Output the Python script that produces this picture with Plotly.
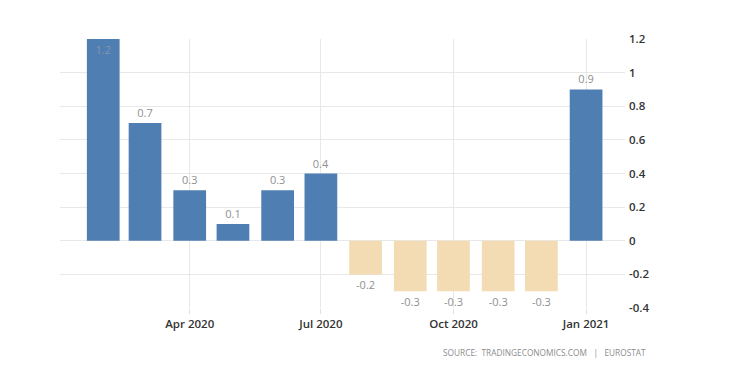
import plotly.graph_objects as go

months = ["2020-02-01", "2020-03-01", "2020-04-01", "2020-05-01", "2020-06-01", "2020-07-01",
          "2020-08-01", "2020-09-01", "2020-10-01", "2020-11-01", "2020-12-01", "2021-01-01"]
values = [1.2, 0.7, 0.3, 0.1, 0.3, 0.4, -0.2, -0.3, -0.3, -0.3, -0.3, 0.9]
tick_dates = ["2020-04-01", "2020-07-01", "2020-10-01", "2021-01-01"]
tick_labels = ["Apr 2020", "Jul 2020", "Oct 2020", "Jan 2021"]
y_ticks = [-0.4, -0.2, 0, 0.2, 0.4, 0.6, 0.8, 1, 1.2]
y_labels = ["-0.4", "-0.2", "0", "0.2", "0.4", "0.6", "0.8", "1", "1.2"]

BLUE = "#4f7eb2"
TAN = "#f3dcb4"
colors = [BLUE if v >= 0 else TAN for v in values]
texts = [f"{v:g}" for v in values]
positions = ["inside" if v >= 1.2 else "outside" for v in values]

DAY_MS = 86400000
fig = go.Figure(go.Bar(
    x=months, y=values,
    marker=dict(color=colors, line=dict(width=0)),
    width=[22.7 * DAY_MS] * len(values),
    text=texts, textposition=positions,
    insidetextanchor="end",
    insidetextfont=dict(color="#8795ab", size=11, family="Open Sans"),
    outsidetextfont=dict(color="#909090", size=11, family="Open Sans"),
    cliponaxis=False,
    hoverinfo="skip",
))

fig.update_layout(
    width=740, height=379,
    margin=dict(l=52, r=123, t=31, b=79),
    paper_bgcolor="white", plot_bgcolor="white",
    showlegend=False,
    font=dict(family="Open Sans", size=11, color="#333333"),
    xaxis=dict(
        type="date",
        range=["2020-01-02", "2021-01-28"],
        tickvals=tick_dates, ticktext=tick_labels,
        showgrid=True, gridcolor="#e8e8e8", gridwidth=1,
        ticks="outside", ticklen=5, tickcolor="#e0e0e0",
        showline=False, zeroline=False,
        tickfont=dict(size=11.5, color="#333333", family="Open Sans", weight=600),
    ),
    yaxis=dict(
        side="right",
        range=[-0.4, 1.2],
        tickvals=y_ticks, ticktext=y_labels,
        showgrid=True, gridcolor="#e8e8e8", gridwidth=1,
        zeroline=True, zerolinecolor="#e8e8e8", zerolinewidth=1,
        showline=False, ticks="", ticklabelstandoff=3,
        tickfont=dict(size=11.5, color="#333333", family="Open Sans", weight=600),
    ),
    annotations=[dict(
        text="SOURCE:\u00a0\u00a0TRADINGECONOMICS.COM\u00a0\u00a0\u00a0|\u00a0\u00a0\u00a0EUROSTAT",
        xref="paper", yref="paper", x=1.04, y=-0.164,
        xanchor="right", yanchor="middle", showarrow=False,
        font=dict(size=8.3, color="#8c8c8c", family="Open Sans"),
    )],
)

fig.write_html("out.html")
